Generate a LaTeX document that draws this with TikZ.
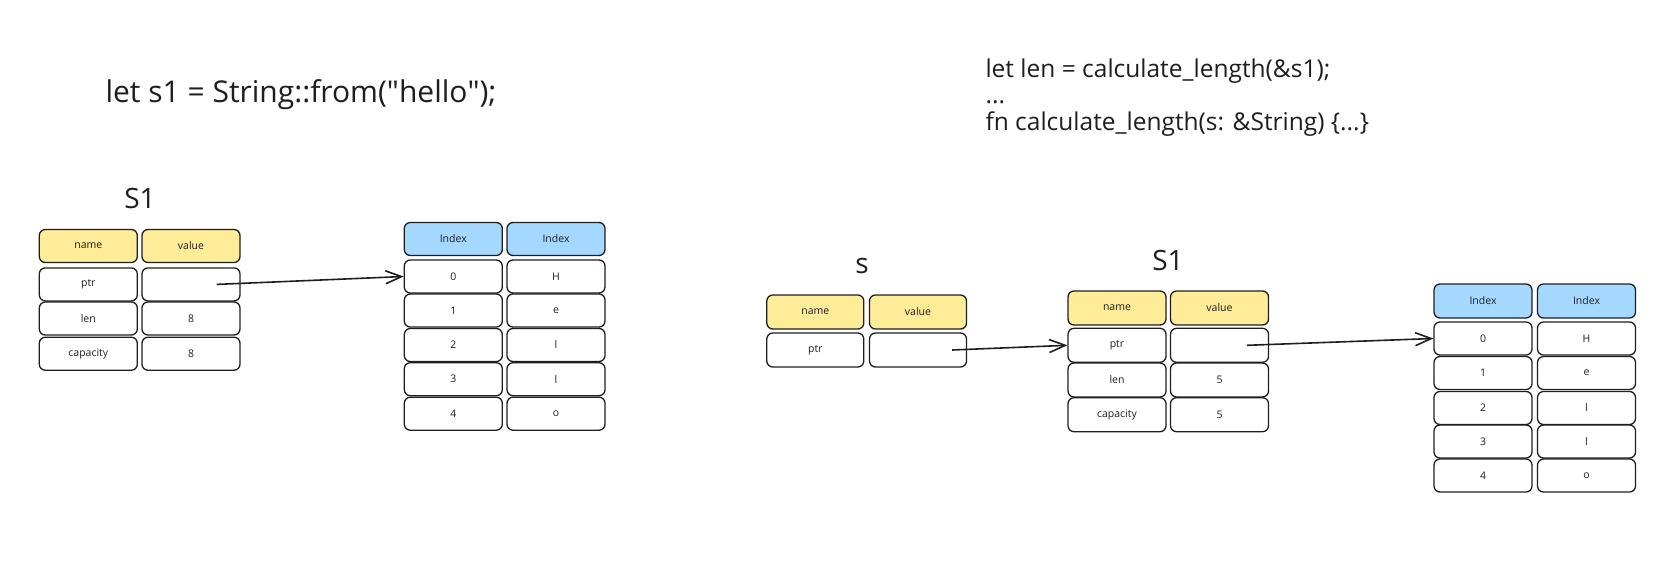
\documentclass[tikz,border=0pt]{standalone}
\usepackage{fontspec}
\setmainfont{Open Sans}
\usepackage{tikz}
\usetikzlibrary{arrows.meta}
\definecolor{ink}{HTML}{1E1E1E}
\definecolor{headyellow}{HTML}{FFEC99}
\definecolor{headblue}{HTML}{A5D8FF}
\tikzset{
  cell/.style={draw=ink, line width=1.3pt, rounded corners=6pt, inner sep=0pt,
    minimum width=98pt, minimum height=33pt, font=\fontsize{10.5}{13}\selectfont, text=ink},
  namehead/.style={cell, fill=headyellow},
  indexhead/.style={cell, fill=headblue},
  ptrarrow/.style={draw=ink, line width=1.6pt, -{Straight Barb[length=16pt,width=13pt,line width=1.6pt]}},
  biglabel/.style={font=\fontsize{28}{32}\selectfont, text=ink},
  codetext/.style={anchor=base west, font=\fontsize{24.5}{28}\selectfont, text=ink},
}

\begin{document}
\begin{tikzpicture}[x=1pt,y=-1pt]
        \useasboundingbox (0,0) rectangle (1656,571);
        \node[codetext, font=\fontsize{30}{34}\selectfont] (lcode) at (102,102) {let s1 = String::from(\textquotedbl hello\textquotedbl);};
        \node[codetext] (rcode1) at (982,77) {let len = calculate\_length(\&s1);};
        \node[codetext] (rcode2) at (982,103) {...};
        \node[codetext] (rcode3) at (982,130) {fn calculate\_length(s: \&String) \{...\}};

        \node[biglabel] (ls1) at (140,198) {S1};
        \node[namehead] (lname) at (88.3,246) {name};
        \node[namehead] (lvalue) at (191,246) {value};
        \node[cell] (lptr) at (88.3,284.4) {ptr};
        \node[cell] (lptrv) at (191,284.4) {};
        \node[cell] (llen) at (88.3,318.5) {len};
        \node[cell] (llenv) at (191,318.5) {8};
        \node[cell] (lcap) at (88.3,353.7) {capacity};
        \node[cell] (lcapv) at (191,353.7) {8};

        \node[indexhead] (lidxh) at (453.3,239) {Index};
        \node[indexhead] (lvalh) at (556,239) {Index};
        \node[cell] (li0) at (453.3,276.5) {0};
        \node[cell] (lc0) at (556,276.5) {H};
        \node[cell] (li1) at (453.3,310.5) {1};
        \node[cell] (lc1) at (556,310.5) {e};
        \node[cell] (li2) at (453.3,345) {2};
        \node[cell] (lc2) at (556,345) {l};
        \node[cell] (li3) at (453.3,379.2) {3};
        \node[cell] (lc3) at (556,379.2) {l};
        \node[cell] (li4) at (453.3,413.7) {4};
        \node[cell] (lc4) at (556,413.7) {o};

        \node[biglabel] (ss) at (862,266) {s};
        \node[namehead, minimum width=97pt, minimum height=34pt] (sname) at (815.3,312) {name};
        \node[namehead, minimum width=97pt, minimum height=34pt] (svalue) at (918,312) {value};
        \node[cell, minimum width=97pt, minimum height=34pt] (sptr) at (815.3,350) {ptr};
        \node[cell, minimum width=97pt, minimum height=34pt] (sptrv) at (918,350) {};

        \node[biglabel] (rs1) at (1168,260) {S1};
        \node[namehead, minimum height=34pt] (rname) at (1117,308) {name};
        \node[namehead, minimum height=34pt] (rvalue) at (1219.5,308) {value};
        \node[cell, minimum height=34pt] (rptr) at (1117,345.3) {ptr};
        \node[cell, minimum height=34pt] (rptrv) at (1219.5,345.3) {};
        \node[cell, minimum height=34pt] (rlen) at (1117,380) {len};
        \node[cell, minimum height=34pt] (rlenv) at (1219.5,380) {5};
        \node[cell, minimum height=34pt] (rcap) at (1117,414.7) {capacity};
        \node[cell, minimum height=34pt] (rcapv) at (1219.5,414.7) {5};

        \node[indexhead, minimum height=34pt] (ridxh) at (1483,301) {Index};
        \node[indexhead, minimum height=34pt] (rvalh) at (1586.5,301) {Index};
        \node[cell] (ri0) at (1483,338.5) {0};
        \node[cell] (rc0) at (1586.5,338.5) {H};
        \node[cell] (ri1) at (1483,373) {1};
        \node[cell] (rc1) at (1586.5,373) {e};
        \node[cell] (ri2) at (1483,408) {2};
        \node[cell] (rc2) at (1586.5,408) {l};
        \node[cell] (ri3) at (1483,441.5) {3};
        \node[cell] (rc3) at (1586.5,441.5) {l};
        \node[cell] (ri4) at (1483,475.5) {4};
        \node[cell] (rc4) at (1586.5,475.5) {o};

        \draw[ptrarrow] ([xshift=-24pt]lptrv.east) -- (li0.west);
        \draw[ptrarrow] ([xshift=-15pt]sptrv.east) -- (rptr.west);
        \draw[ptrarrow] ([xshift=-22pt]rptrv.east) -- (ri0.west);
\end{tikzpicture}
\end{document}
